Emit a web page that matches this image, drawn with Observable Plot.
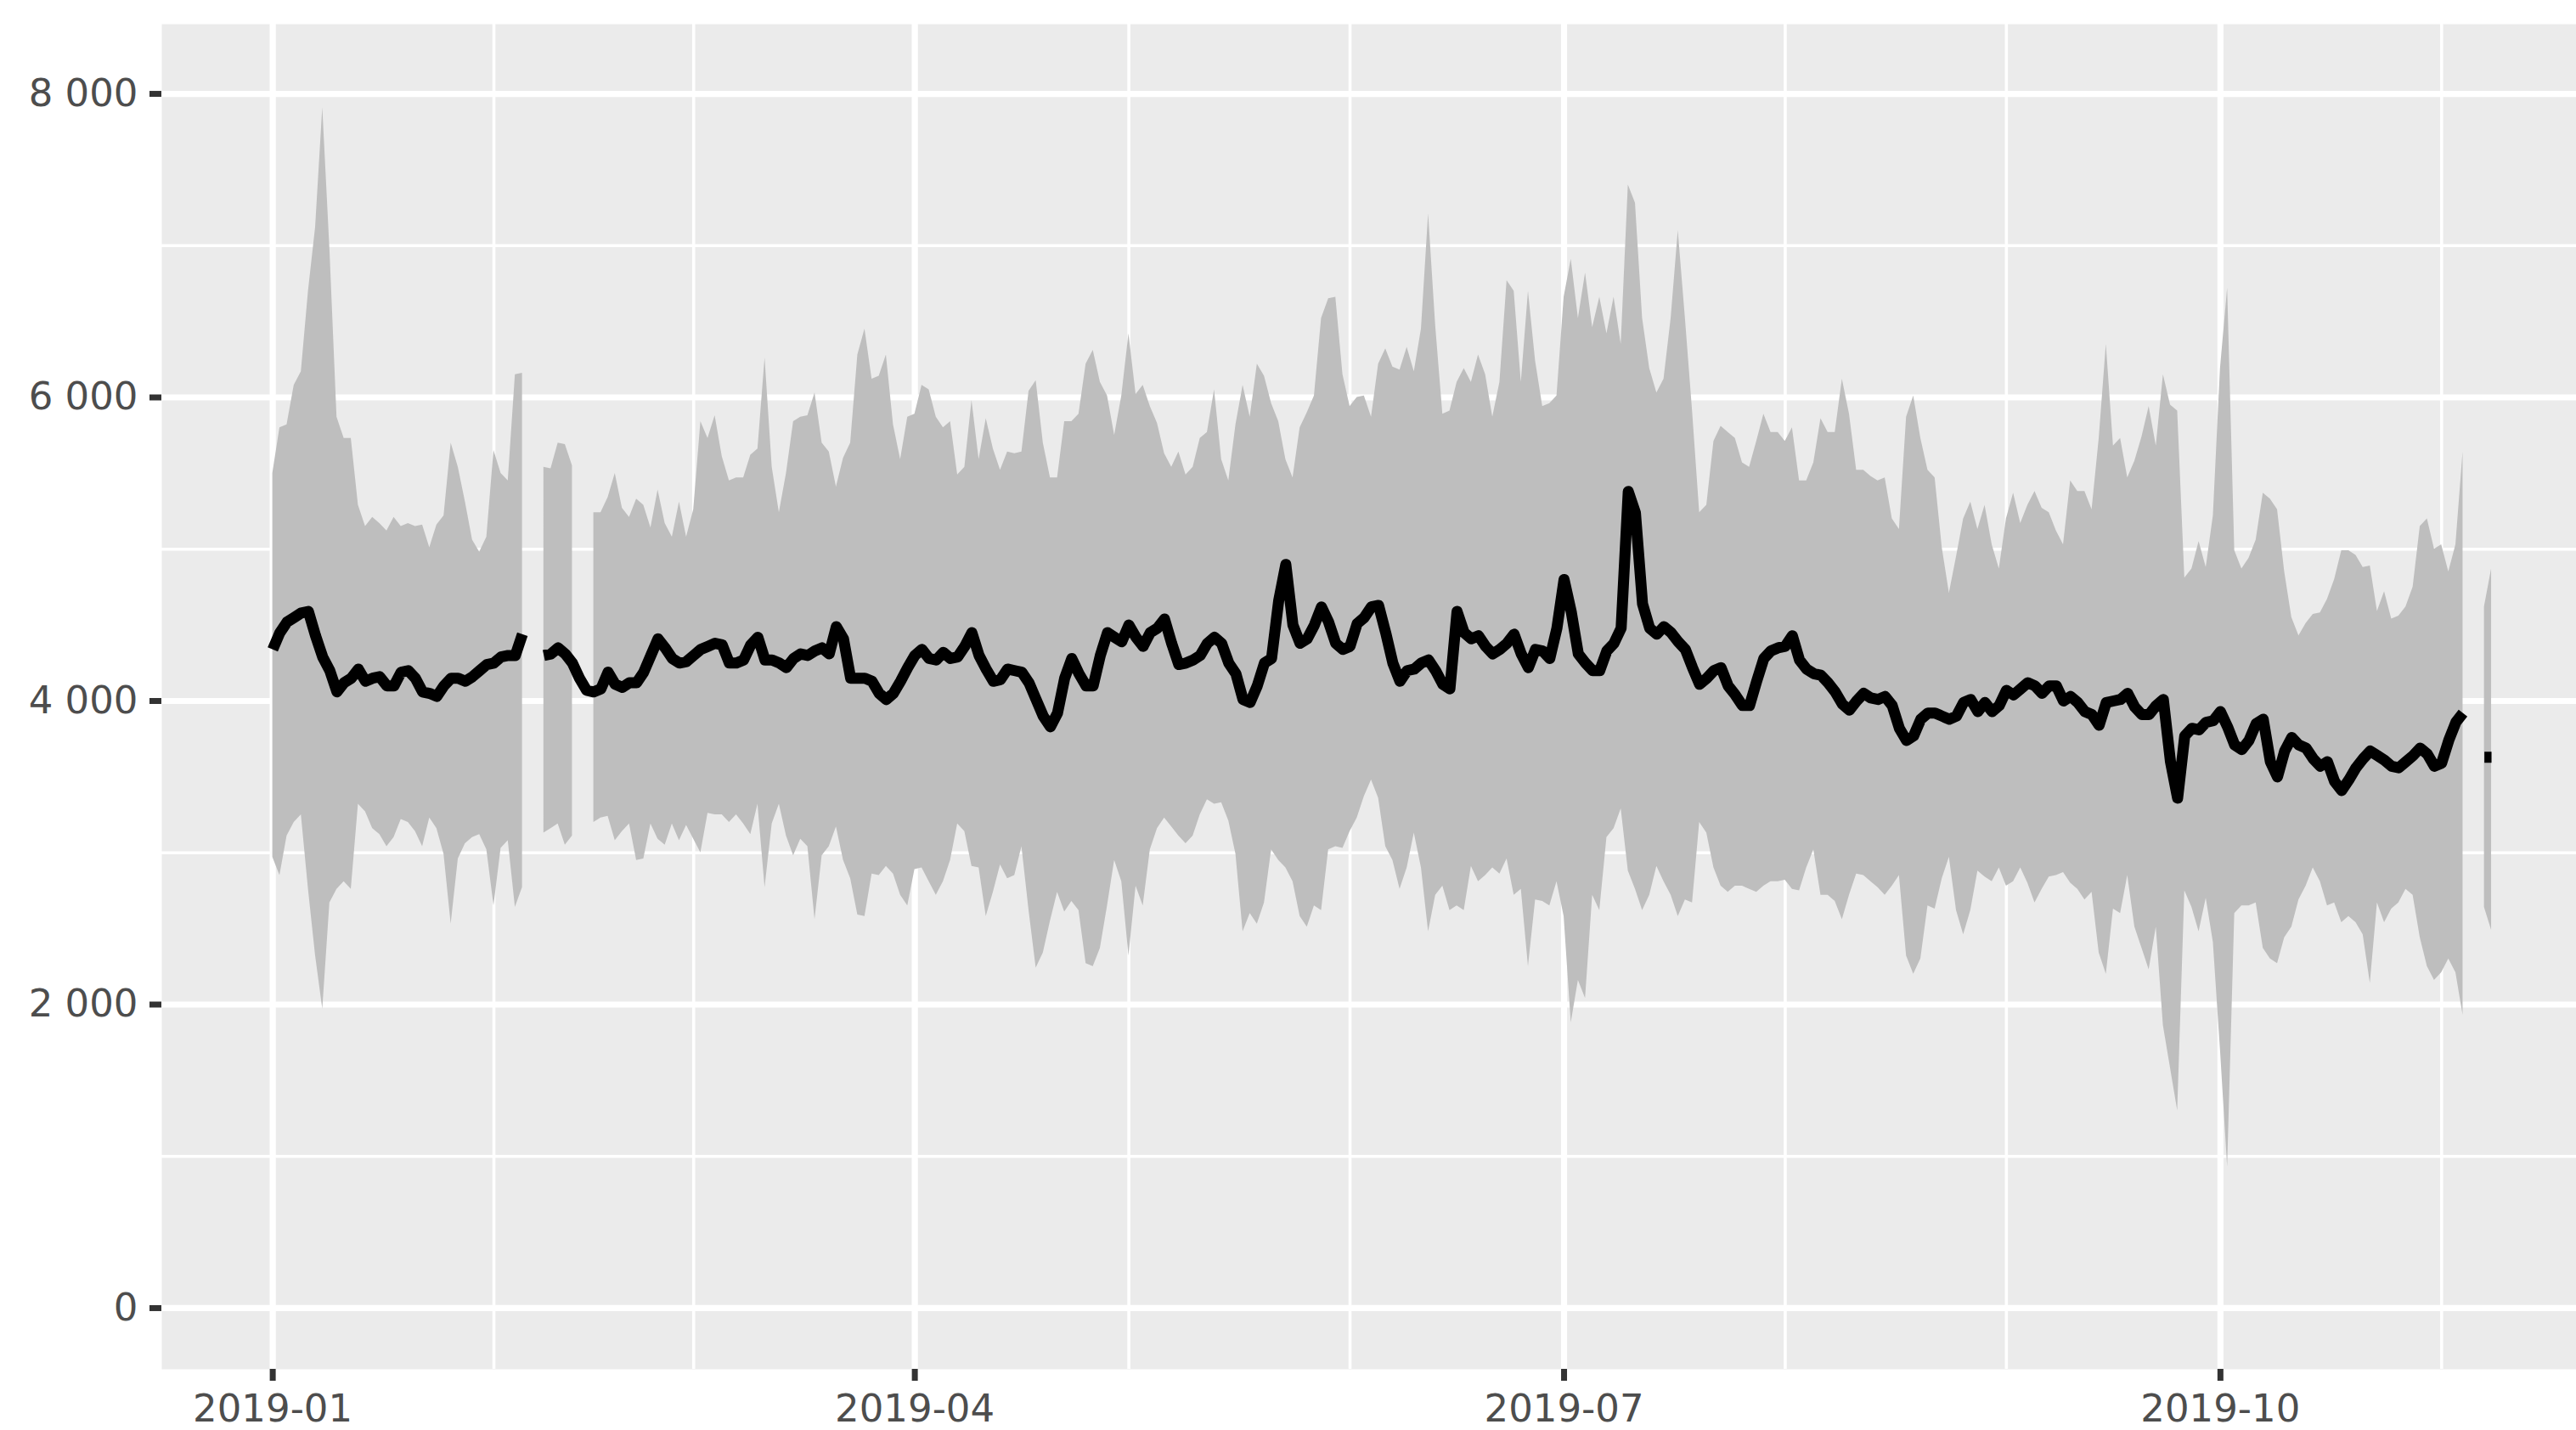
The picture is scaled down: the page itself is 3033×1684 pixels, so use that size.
<!DOCTYPE html>
<html>
<head>
<meta charset="utf-8">
<script src="https://cdn.jsdelivr.net/npm/d3@7"></script>
<script src="https://cdn.jsdelivr.net/npm/@observablehq/plot@0.6"></script>
<style>
  html, body { margin: 0; padding: 0; background: #ffffff; }
  #chart { width: 3033px; height: 1684px; overflow: hidden; }
</style>
</head>
<body>
<div id="chart"></div>
<script>
// ---- Data (daily, starting 2019-01-01; null = missing) ----
const startDate = "2019-01-01";

const upper = [
5500,5800,5820,6080,6170,6700,7120,7910,6980,5870,
5730,5730,5290,5150,5210,5170,5120,5210,5150,5170,
5150,5160,5010,5160,5220,5700,5540,5310,5060,4980,
5080,5650,5500,5450,6150,6160,null,null,5540,5530,
5700,5690,5550,null,null,5240,5240,5340,5500,5270,
5210,5330,5290,5140,5390,5170,5080,5310,5080,5260,
5840,5730,5880,5610,5450,5470,5470,5620,5660,6260,
5540,5240,5500,5840,5870,5880,6030,5700,5640,5410,
5600,5700,6280,6450,6120,6140,6280,5820,5590,5870,
5890,6080,6050,5870,5800,5840,5490,5540,5980,5590,
5860,5660,5520,5640,5630,5640,6040,6110,5700,5470,
5470,5840,5840,5890,6220,6310,6100,6010,5750,6010,
6420,6020,6080,5940,5830,5630,5540,5640,5490,5540,
5730,5770,6050,5590,5450,5820,6080,5870,6220,6140,
5960,5840,5590,5470,5800,5900,6010,6520,6650,6660,
6150,5940,6000,6010,5870,6220,6320,6200,6180,6330,
6170,6450,7210,6470,5890,5910,6100,6190,6100,6280,
6150,5870,6100,6770,6700,6100,6700,6240,5940,5960,
6010,6660,6910,6520,6820,6460,6660,6420,6660,6350,
7400,7280,6520,6190,6030,6120,6520,7100,6520,5910,
5240,5290,5710,5810,5770,5730,5570,5540,5710,5890,
5770,5770,5710,5800,5450,5450,5570,5860,5770,5770,
6120,5890,5520,5520,5480,5450,5470,5200,5130,5870,
6010,5730,5520,5470,5010,4710,4950,5200,5310,5130,
5290,5030,4870,5200,5370,5170,5290,5380,5270,5240,
5120,5030,5450,5380,5380,5260,5730,6350,5680,5730,
5470,5580,5740,5940,5680,6150,5950,5910,4810,4870,
5050,4880,5220,6190,6720,4990,4870,4940,5060,5370,
5330,5260,4850,4550,4430,4510,4570,4580,4670,4800,
4990,4990,4960,4880,4890,4590,4720,4540,4560,4620,
4750,5150,5200,5000,5030,4850,5030,5640,null,null,
4620,4870
];

const lower = [
2970,2850,3110,3200,3250,2760,2320,1970,2670,2760,
2810,2760,3320,3270,3160,3120,3040,3100,3220,3200,
3140,3040,3230,3160,2990,2530,2960,3060,3100,3120,
3020,2650,3030,3080,2640,2770,null,null,3130,3160,
3190,3050,3110,null,null,3200,3230,3240,3080,3140,
3190,2950,2960,3190,3090,3050,3190,3080,3180,3090,
3000,3260,3250,3250,3200,3250,3190,3120,3320,2770,
3190,3320,3110,2980,3090,3040,2560,2980,3040,3170,
2950,2830,2590,2580,2860,2850,2910,2860,2720,2650,
2890,2900,2810,2720,2810,2950,3190,3140,2910,2900,
2580,2740,2920,2830,2850,3040,2620,2240,2340,2550,
2740,2610,2680,2620,2270,2250,2370,2650,2950,2810,
2320,2780,2650,3020,3160,3230,3170,3110,3060,3110,
3250,3350,3320,3330,3210,2990,2480,2600,2530,2670,
3020,2950,2900,2810,2580,2510,2650,2620,3020,3040,
3030,3140,3230,3370,3480,3360,3040,2950,2760,2900,
3130,2900,2480,2720,2780,2620,2650,2620,2910,2810,
2850,2900,2860,2960,2720,2760,2250,2690,2680,2650,
2810,2580,1880,2160,2040,2720,2620,3100,3160,3290,
2880,2760,2620,2720,2910,2810,2720,2580,2690,2670,
3200,3130,2900,2780,2740,2780,2780,2760,2740,2780,
2810,2810,2820,2760,2750,2900,3020,2720,2720,2680,
2560,2720,2860,2850,2810,2770,2720,2780,2850,2320,
2200,2300,2650,2630,2830,2970,2620,2460,2620,2880,
2840,2810,2900,2780,2810,2900,2800,2670,2760,2840,
2850,2870,2800,2760,2690,2740,2340,2200,2630,2600,
2850,2510,2370,2230,2510,1860,1580,1300,2750,2640,
2480,2700,2410,1700,930,2600,2650,2650,2670,2370,
2300,2270,2440,2510,2690,2780,2900,2810,2650,2670,
2540,2580,2540,2460,2140,2670,2540,2630,2670,2760,
2720,2440,2250,2160,2210,2300,2210,1930,null,null,
2640,2490
];

const mid = [
4340,4450,4520,4550,4580,4590,4430,4290,4200,4060,
4120,4150,4210,4130,4150,4160,4100,4100,4190,4200,
4150,4060,4050,4030,4100,4150,4150,4130,4160,4200,
4240,4250,4290,4300,4300,4440,null,null,4300,4310,
4350,4310,4250,4150,4070,4060,4080,4190,4110,4090,
4120,4120,4190,4300,4410,4350,4280,4250,4260,4300,
4340,4360,4380,4370,4250,4250,4270,4370,4420,4270,
4270,4250,4220,4280,4310,4300,4330,4350,4310,4490,
4410,4150,4150,4150,4130,4050,4010,4050,4130,4220,
4300,4340,4280,4270,4320,4280,4290,4360,4450,4300,
4210,4130,4140,4210,4200,4190,4120,4010,3900,3830,
3920,4150,4280,4180,4100,4100,4300,4450,4420,4390,
4500,4420,4360,4450,4480,4540,4380,4240,4250,4270,
4300,4380,4420,4380,4250,4180,4010,3990,4100,4250,
4280,4660,4900,4500,4380,4410,4500,4620,4520,4380,
4340,4360,4510,4550,4620,4630,4450,4250,4130,4200,
4210,4250,4270,4200,4110,4080,4590,4450,4410,4430,
4360,4310,4340,4380,4440,4310,4220,4340,4330,4280,
4480,4800,4590,4310,4250,4200,4200,4330,4380,4480,
5380,5240,4640,4480,4440,4490,4450,4390,4340,4220,
4110,4150,4200,4220,4100,4040,3970,3970,4130,4280,
4330,4350,4360,4430,4270,4210,4180,4170,4120,4060,
3980,3940,4000,4050,4020,4010,4030,3970,3820,3740,
3770,3880,3920,3920,3900,3880,3900,3990,4010,3930,
3990,3930,3970,4070,4040,4080,4120,4100,4050,4100,
4100,4000,4030,3990,3930,3910,3840,3990,4000,4010,
4050,3960,3910,3910,3970,4010,3600,3360,3770,3820,
3810,3860,3870,3930,3830,3710,3680,3740,3850,3880,
3600,3500,3670,3760,3710,3690,3620,3570,3600,3470,
3410,3480,3560,3620,3670,3640,3610,3570,3560,3600,
3640,3690,3650,3570,3590,3740,3860,3920,null,null,
3630,3630
];

// ---- Axis breaks ----
const xMajorTicks = ["2019-01-01", "2019-04-01", "2019-07-01", "2019-10-01"];
const xMinorTicks = ["2019-02-01", "2019-03-01", "2019-05-01", "2019-06-01", "2019-08-01", "2019-09-01", "2019-11-01"];
const yMajorTicks = [0, 2000, 4000, 6000, 8000];
const yMinorTicks = [1000, 3000, 5000, 7000];

// ---- Build table ----
const parse = d3.utcParse("%Y-%m-%d");
const t0 = parse(startDate);
const rows = upper.map((u, i) => ({
  date: d3.utcDay.offset(t0, i),
  upper: u,
  lower: lower[i],
  mid: mid[i]
}));
const xMajor = xMajorTicks.map(parse);
const xMinor = xMinorTicks.map(parse);

// ggplot-like expanded limits
const xDomain = [new Date(+t0 - 15.55 * 864e5), new Date(+t0 + 322.9 * 864e5)];
const yDomain = [-403, 8459];

const fmtY = d => d3.format(",")(d).replace(/,/g, " ");

const plot = Plot.plot({
  width: 3033,
  height: 1684,
  marginLeft: 190,
  marginRight: 0,
  marginTop: 28,
  marginBottom: 72,
  style: {
    fontFamily: "'DejaVu Sans', sans-serif",
    fontSize: "45px",
    background: "#ffffff",
    color: "#000000"
  },
  x: { type: "utc", domain: xDomain },
  y: { domain: yDomain },
  marks: [
    Plot.frame({ fill: "#EBEBEB", stroke: "none" }),
    Plot.ruleY(yMinorTicks, { stroke: "#ffffff", strokeWidth: 3.6 }),
    Plot.ruleX(xMinor, { stroke: "#ffffff", strokeWidth: 3.6 }),
    Plot.ruleY(yMajorTicks, { stroke: "#ffffff", strokeWidth: 7.2 }),
    Plot.ruleX(xMajor, { stroke: "#ffffff", strokeWidth: 7.2 }),
    Plot.areaY(rows, { x: "date", y1: "lower", y2: "upper", fill: "#BEBEBE", curve: "linear" }),
    Plot.lineY(rows, { x: "date", y: "mid", stroke: "#000000", strokeWidth: 13, strokeLinecap: "butt", strokeLinejoin: "round", curve: "linear" }),
    Plot.axisX({
      ticks: xMajor,
      tickFormat: d3.utcFormat("%Y-%m"),
      tickSize: 14,
      tickPadding: 16,
      stroke: "#333333",
      strokeWidth: 7,
      fill: "#4D4D4D",
      fontSize: 45,
      label: null
    }),
    Plot.axisY({
      ticks: yMajorTicks,
      tickFormat: fmtY,
      tickSize: 14,
      tickPadding: 14,
      stroke: "#333333",
      strokeWidth: 7,
      fill: "#4D4D4D",
      fontSize: 45,
      label: null
    })
  ]
});

document.getElementById("chart").appendChild(plot);
</script>
</body>
</html>
